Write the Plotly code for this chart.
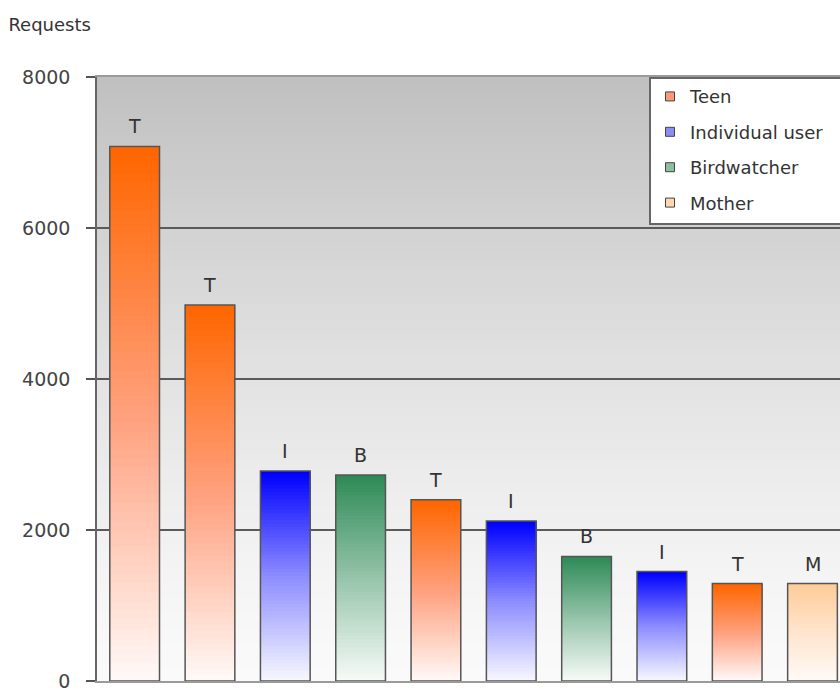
import plotly.graph_objects as go

# Requests per user segment, in descending order
segments = ["Teen", "Teen", "Individual user", "Birdwatcher", "Teen",
            "Individual user", "Birdwatcher", "Individual user", "Teen", "Mother"]
requests = [7080, 4980, 2780, 2730, 2400, 2120, 1650, 1450, 1290, 1290]
labels = ["T", "T", "I", "B", "T", "I", "B", "I", "T", "M"]

legend_order = ["Teen", "Individual user", "Birdwatcher", "Mother"]
# gradient stops per segment: (bottom, middle, top)
gradient_stops = {
    "Teen": ((255, 248, 246), (255, 160, 125), (255, 102, 0)),
    "Individual user": ((246, 246, 255), (140, 140, 255), (0, 0, 255)),
    "Birdwatcher": ((246, 250, 247), (150, 196, 170), (46, 139, 87)),
    "Mother": ((255, 250, 246), (255, 228, 205), (255, 204, 153)),
}
legend_swatch = {"Teen": "#fb9a77", "Individual user": "#8c8cf5",
                 "Birdwatcher": "#8cbf9f", "Mother": "#ffd6ad"}

y_ticks = [0, 2000, 4000, 6000, 8000]

FONT = "DejaVu Sans"
N_SLICES = 60
BAR_W = 0.66
x = list(range(len(requests)))


def gradient_color(stops, f):
    lo, mid, hi = stops
    if f < 0.5:
        a, b, t = lo, mid, f / 0.5
    else:
        a, b, t = mid, hi, (f - 0.5) / 0.5
    r, g, bl = (round(p + (q - p) * t) for p, q in zip(a, b))
    return f"rgb({r},{g},{bl})"


fig = go.Figure()

# vertical gradient inside every bar; each slice runs from its own base to
# the bar top and is painted over by the next one, so there are no seams
for k in range(N_SLICES):
    f = k / (N_SLICES - 1)
    bases = [v * k / N_SLICES for v in requests]
    fig.add_trace(go.Bar(
        x=x, y=[v - b for v, b in zip(requests, bases)], base=bases,
        width=BAR_W,
        marker=dict(color=[gradient_color(gradient_stops[s], f) for s in segments],
                    line_width=0),
        showlegend=False, hoverinfo="skip",
    ))

# bar outlines
fig.add_trace(go.Bar(
    x=x, y=requests, width=BAR_W,
    marker=dict(color="rgba(0,0,0,0)", line=dict(color="#555555", width=1.5)),
    showlegend=False, hoverinfo="skip",
))

# legend swatches
for name in legend_order:
    fig.add_trace(go.Scatter(
        x=[None], y=[None], mode="markers", name=name, legendgroup=name,
        marker=dict(symbol="square", size=9, color=legend_swatch[name],
                    line=dict(color="#444444", width=1)),
    ))

# letter labels above bars
for xi, v, lab in zip(x, requests, labels):
    fig.add_annotation(x=xi, y=v, text=lab, showarrow=False, yanchor="bottom",
                       yshift=7, font=dict(family=FONT, size=19, color="#333333"))

# grey-to-white background of the plotting area (overlapping bands, bottom up)
n_bg = 80
for i in range(n_bg):
    t = (i + 0.5) / n_bg
    c = round(250 - 58 * t ** 1.3)
    fig.add_shape(type="rect", xref="paper", yref="y", layer="below",
                  x0=0, x1=1, y0=8000 * i / n_bg, y1=8000,
                  line_width=0, fillcolor=f"rgb({c},{c},{c})")

# legend frame, running off the right edge of the figure
fig.add_shape(type="rect", xref="paper", yref="paper", layer="above",
              x0=0.7443, x1=1.05, y0=0.7566, y1=0.9984,
              fillcolor="white", line=dict(color="#666666", width=2))

fig.update_layout(
    width=840, height=693,
    margin=dict(l=97, r=0, t=77, b=12, autoexpand=False),
    paper_bgcolor="white", plot_bgcolor="white",
    barmode="overlay",
    title=dict(text="Requests", x=0.01, xanchor="left", y=1 - 25 / 693,
               yanchor="middle", font=dict(family=FONT, size=18, color="#333333")),
    xaxis=dict(range=[-0.5, 9.365], showticklabels=False, ticks="",
               showgrid=False, zeroline=False, showline=True, mirror=True,
               linecolor="#9a9a9a", linewidth=1.5),
    yaxis=dict(range=[0, 8000], tickvals=y_ticks, ticks="outside", ticklen=9,
               tickcolor="#555555", tickwidth=1.5, ticklabelstandoff=12,
               ticklabeloverflow="allow",
               showgrid=True, gridcolor="#5a5a5a", gridwidth=1.5,
               zeroline=False, showline=True, linecolor="#666666", linewidth=1.5,
               tickfont=dict(family=FONT, size=19, color="#444444")),
    legend=dict(x=0.7443, y=0.998, xanchor="left", yanchor="top",
                bgcolor="rgba(0,0,0,0)", borderwidth=0,
                tracegroupgap=9, traceorder="grouped",
                font=dict(family=FONT, size=18, color="#333333")),
    showlegend=True,
)

fig.write_html("out.html")
